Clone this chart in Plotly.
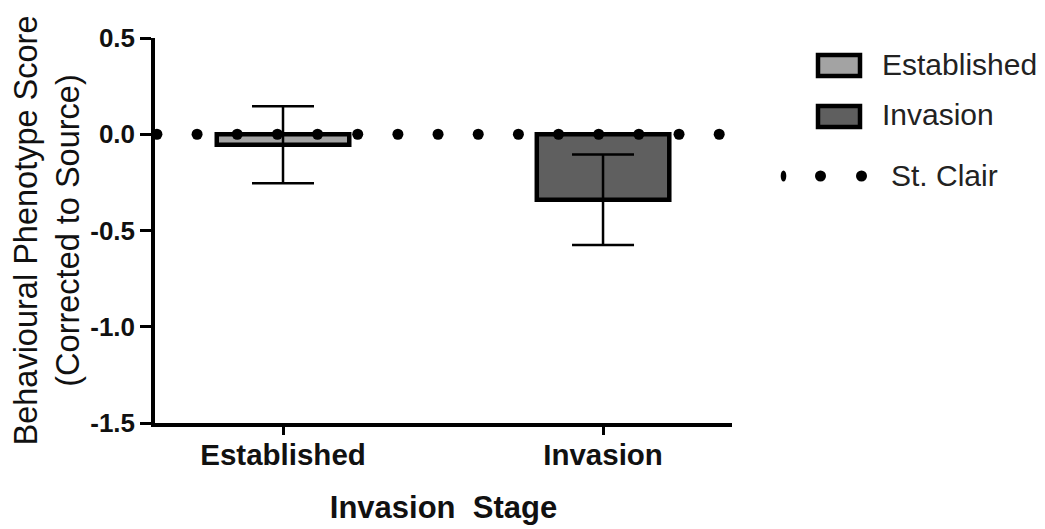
import numpy as np
import plotly.graph_objects as go

# ---- data ----
categories = ["Established", "Invasion"]
means = [-0.055, -0.34]
errors = [0.20, 0.235]
bar_colors = ["#a3a3a3", "#5f5f5f"]
stclair_level = 0.0
y_ticks = [0.5, 0.0, -0.5, -1.0, -1.5]
y_ticktext = ["0.5", "0.0", "-0.5", "-1.0", "-1.5"]

W, H = 1045, 529
OFF = 8  # page body margin offset
PL, PR, PT, PB = 155, 732, 38, 423  # plot area in reference pixels
ML, MT = PL - OFF, PT - OFF
MR = W - (PR - OFF)
MB = H - (PB - OFF)
FONT = "Arial, Liberation Sans, sans-serif"

fig = go.Figure()
xpos = list(range(len(categories)))
for i, cat in enumerate(categories):
    fig.add_trace(go.Bar(
        x=[xpos[i]], y=[means[i]], name=cat, width=0.414,
        marker=dict(color=bar_colors[i], line=dict(color="black", width=4.5)),
        error_y=dict(type="data", array=[errors[i]], visible=True,
                     color="black", thickness=2.5, width=31),
        showlegend=False,
    ))

# St. Clair reference level drawn as a dotted (round dots) line
dot_x = -0.394 + 0.1255 * np.arange(15)
fig.add_trace(go.Scatter(
    x=dot_x, y=[stclair_level] * len(dot_x), mode="markers",
    marker=dict(color="black", size=11), showlegend=False, name="St. Clair",
    cliponaxis=False,
))

# ---- manual legend (paper coords, reference pixel positions) ----
def px2paper_x(px):
    return (px - PL) / (PR - PL)

def px2paper_y(py):
    return 1 - (py - PT) / (PB - PT)

shapes = []
annotations = []
legend_rows = [(categories[0], bar_colors[0], 53, 78), (categories[1], bar_colors[1], 104, 129)]
for name, col, y0, y1 in legend_rows:
    shapes.append(dict(type="rect", xref="paper", yref="paper",
                       x0=px2paper_x(818), x1=px2paper_x(860),
                       y0=px2paper_y(y1 - 2), y1=px2paper_y(y0 + 2),
                       fillcolor=col, line=dict(color="black", width=4.5)))
    annotations.append(dict(text=name, xref="paper", yref="paper",
                            x=px2paper_x(880), y=px2paper_y((y0 + y1) / 2 - 1.5),
                            xanchor="left", yanchor="middle", showarrow=False,
                            font=dict(family=FONT, size=30, color="#222")))
# dotted legend sample
for cx, rx in [(783.5, 2.8), (820.5, 5.5), (861.5, 5.5)]:
    shapes.append(dict(type="circle", xref="paper", yref="paper",
                       x0=px2paper_x(cx - rx), x1=px2paper_x(cx + rx),
                       y0=px2paper_y(176 + 5.5), y1=px2paper_y(176 - 5.5),
                       fillcolor="black", line=dict(width=0)))
annotations.append(dict(text="St. Clair", xref="paper", yref="paper",
                        x=px2paper_x(889), y=px2paper_y(175),
                        xanchor="left", yanchor="middle", showarrow=False,
                        font=dict(family=FONT, size=30, color="#222")))

fig.update_layout(
    width=W, height=H,
    margin=dict(l=ML, r=MR, t=MT, b=MB, autoexpand=False),
    plot_bgcolor="white", paper_bgcolor="white",
    barmode="overlay",
    showlegend=False,
    shapes=shapes, annotations=annotations,
    xaxis=dict(
        range=[-0.4, 1.403], tickvals=xpos, ticktext=categories,
        showgrid=False, zeroline=False, showline=True, linecolor="black", linewidth=3.5,
        ticks="outside", ticklen=8, tickwidth=3, tickcolor="black",
        ticklabelstandoff=-5,
        tickfont=dict(family=FONT, size=29.5, color="#111", weight="bold"),
        title=dict(text="Invasion\u00a0 Stage", standoff=27,
                   font=dict(family=FONT, size=31, color="#111", weight="bold")),
        automargin=False,
    ),
    yaxis=dict(
        range=[-1.5, 0.5], tickvals=y_ticks, ticktext=y_ticktext,
        showgrid=False, zeroline=False, showline=True, linecolor="black", linewidth=3.5,
        ticks="outside", ticklen=11, tickwidth=3, tickcolor="black",
        tickfont=dict(family=FONT, size=26, color="#111", weight="bold"),
        title=dict(text="Behavioural Phenotype Score<br>(Corrected to Source)", standoff=18,
                   font=dict(family=FONT, size=32.5, color="#111")),
        automargin=False,
    ),
)

fig.write_html("out.html")
